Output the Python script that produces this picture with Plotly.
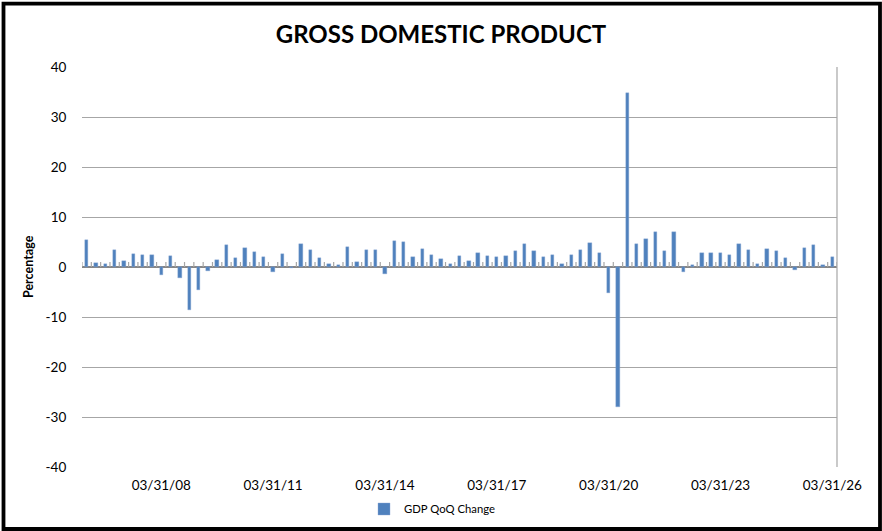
import plotly.graph_objects as go

# Quarter-end categories, 2006Q1 .. 2026Q1
quarters = []
for yr in range(2006, 2027):
    for md in ["03/31", "06/30", "09/30", "12/31"]:
        quarters.append(f"{md}/{str(yr)[2:]}")
quarters = quarters[:81]

gdp_qoq = [
    5.5, 0.9, 0.6, 3.4,      # 2006
    1.2, 2.6, 2.4, 2.5,      # 2007
    -1.6, 2.3, -2.1, -8.5,   # 2008
    -4.5, -0.7, 1.4, 4.4,    # 2009
    1.9, 3.9, 3.1, 2.1,      # 2010
    -0.9, 2.7, -0.1, 4.6,    # 2011
    3.4, 1.8, 0.6, 0.5,      # 2012
    4.0, 1.1, 3.5, 3.5,      # 2013
    -1.4, 5.3, 5.0, 2.0,     # 2014
    3.6, 2.5, 1.6, 0.7,      # 2015
    2.3, 1.3, 2.9, 2.2,      # 2016
    2.0, 2.3, 3.2, 4.6,      # 2017
    3.3, 2.1, 2.5, 0.6,      # 2018
    2.5, 3.4, 4.8, 2.8,      # 2019
    -5.2, -28.0, 34.9, 4.6,  # 2020
    5.7, 7.0, 3.3, 7.0,      # 2021
    -1.0, 0.5, 2.9, 2.8,     # 2022
    2.9, 2.5, 4.7, 3.4,      # 2023
    0.7, 3.6, 3.3, 1.9,      # 2024
    -0.6, 3.8, 4.4, 0.5,     # 2025
    2.0,                     # 2026
]

tick_labels = ["03/31/08", "03/31/11", "03/31/14", "03/31/17",
               "03/31/20", "03/31/23", "03/31/26"]

y_tick_vals = [-40, -30, -20, -10, 0, 10, 20, 30, 40]
y_tick_text = ["-40", "-30", "-20", "-10", "0", "10", "20", "30", "40"]

idx = list(range(len(quarters)))
tick_pos = [quarters.index(t) for t in tick_labels]

FONT = "Lato"

fig = go.Figure()

# small category tick marks along the zero line
tx, ty = [], []
for i in range(len(quarters) + 1):
    tx += [i - 0.5, i - 0.5, None]
    ty += [0, 1, None]
fig.add_trace(go.Scatter(x=tx, y=ty, mode="lines",
                         line=dict(color="#A6A6A6", width=1.2),
                         hoverinfo="skip", showlegend=False))

fig.add_trace(go.Bar(x=idx, y=gdp_qoq, name="GDP QoQ Change",
                     marker=dict(color="#4F81BD",
                                 line=dict(color="#8DAAD6", width=0.4)),
                     width=0.36))

fig.update_layout(
    width=882, height=531,
    margin=dict(l=82, r=45, t=67, b=64, autoexpand=False),
    paper_bgcolor="white", plot_bgcolor="white",
    font=dict(family=FONT, color="#000000", size=13.5),
    title=dict(text="<b>GROSS DOMESTIC PRODUCT</b>",
               x=0.5, xref="container", xanchor="center",
               y=1 - 35 / 531, yref="container", yanchor="middle",
               font=dict(family=FONT, size=24, color="#000000")),
    showlegend=True,
    legend=dict(orientation="h", xref="container", yref="container",
                x=0.5 - 9 / 882, xanchor="center", y=1 - 509 / 531, yanchor="middle",
                font=dict(family=FONT, size=11.3, color="#000000"),
                bgcolor="rgba(0,0,0,0)"),
    bargap=0,
)

fig.update_xaxes(range=[-0.5, len(quarters) - 0.5],
                 tickmode="array", tickvals=tick_pos, ticktext=tick_labels,
                 showgrid=False, zeroline=False, showline=False,
                 ticks="outside", ticklen=6, tickcolor="rgba(0,0,0,0)",
                 tickfont=dict(family=FONT, size=13.5, color="#000000"))

fig.update_yaxes(range=[-40, 40], tickmode="array",
                 tickvals=y_tick_vals, ticktext=y_tick_text,
                 showgrid=True, gridcolor="#A6A6A6", gridwidth=1,
                 zeroline=True, zerolinecolor="#868686", zerolinewidth=1.6,
                 showline=False,
                 ticks="outside", ticklen=12, tickcolor="rgba(0,0,0,0)",
                 tickfont=dict(family=FONT, size=13.5, color="#000000"))

# y-axis title
fig.add_annotation(text="<b>Percentage</b>", textangle=-90,
                   xref="paper", yref="paper",
                   x=(28 - 82) / 755, y=0.5, xanchor="center", yanchor="middle",
                   showarrow=False, font=dict(family=FONT, size=12.5, color="#000000"))

# plot-area right border
fig.add_shape(type="line", xref="paper", yref="paper",
              x0=1, x1=1, y0=0, y1=1, line=dict(color="#A6A6A6", width=1.2))

# outer chart border
fig.add_shape(type="rect", xref="paper", yref="paper",
              x0=(3.5 - 82) / 755, x1=(880 - 82) / 755,
              y0=(467 - 529) / 400, y1=(467 - 3.7) / 400,
              line=dict(color="#000000", width=3.8), fillcolor="rgba(0,0,0,0)",
              layer="above")

fig.write_html("out.html",
               config={"displayModeBar": False},
               post_script="document.body.style.margin='0px';document.body.style.padding='0px';")
